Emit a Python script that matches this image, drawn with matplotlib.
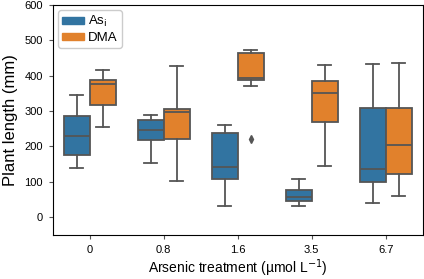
import numpy as np
import matplotlib
matplotlib.use("Agg")
import matplotlib.pyplot as plt
from matplotlib.patches import Patch

plt.rcParams['font.family'] = ['Liberation Sans', 'DejaVu Sans']
plt.rcParams['font.size'] = 8

# treatment levels (umol/L)
treatments = ['0', '0.8', '1.6', '3.5', '6.7']

# box statistics (mm)
asi_whislo = [138, 153, 32, 32, 40]
asi_q1 = [175, 218, 109, 45, 101]
asi_med = [229, 246, 142, 58, 137]
asi_q3 = [285, 274, 239, 76, 310]
asi_whishi = [346, 289, 262, 107, 432]
asi_fliers = [[], [], [], [], []]

dma_whislo = [256, 102, 370, 146, 61]
dma_q1 = [316, 222, 388, 270, 123]
dma_med = [378, 298, 394, 351, 203]
dma_q3 = [388, 306, 463, 385, 310]
dma_whishi = [416, 428, 473, 430, 437]
dma_fliers = [[], [], [222], [], []]

c_asi = '#3274a1'
c_dma = '#e1812c'
c_line = '#555555'


def make_stats(lo, q1, med, q3, hi, fl):
    out = []
    for i in range(len(lo)):
        out.append(dict(whislo=lo[i], q1=q1[i], med=med[i], q3=q3[i],
                        whishi=hi[i], fliers=fl[i]))
    return out


fig = plt.figure(figsize=(4.24, 2.79), dpi=100)
ax = fig.add_axes([0.1243, 0.158, 0.8727, 0.824])

x = np.arange(len(treatments))
w = 0.35
props = dict(linewidth=1.3, color=c_line)
for stats, off, col in [(make_stats(asi_whislo, asi_q1, asi_med, asi_q3, asi_whishi, asi_fliers), -w / 2, c_asi),
                        (make_stats(dma_whislo, dma_q1, dma_med, dma_q3, dma_whishi, dma_fliers), w / 2, c_dma)]:
    ax.bxp(stats, positions=x + off, widths=w, patch_artist=True,
           boxprops=dict(facecolor=col, edgecolor=c_line, linewidth=1.3),
           medianprops=props, whiskerprops=props, capprops=props,
           capwidths=w / 2,
           flierprops=dict(marker='d', markerfacecolor=c_line, markeredgecolor=c_line,
                           markersize=4, linestyle='none'),
           manage_ticks=False)

ax.set_xlim(-0.5, 4.5)
ax.set_ylim(-50, 600)
ax.set_xticks(x, treatments)
ax.set_yticks([0, 100, 200, 300, 400, 500, 600])
ax.set_xlabel('Arsenic treatment (\u00b5mol L$^{-1}$)', fontsize=10, labelpad=2)
ax.set_ylabel('Plant length (mm)', fontsize=12, labelpad=5)
ax.tick_params(length=3, color=c_line, pad=4)

handles = [Patch(facecolor=c_asi, edgecolor=c_asi, label='As$_\\mathrm{i}$'),
           Patch(facecolor=c_dma, edgecolor=c_dma, label='DMA')]
ax.legend(handles=handles, loc='upper left', fontsize=9.5, handlelength=1.7,
          handleheight=0.5, handletextpad=0.3, borderpad=0.3,
          labelspacing=0.2, framealpha=1, borderaxespad=0.4)

fig.savefig('out.png', dpi=100)
